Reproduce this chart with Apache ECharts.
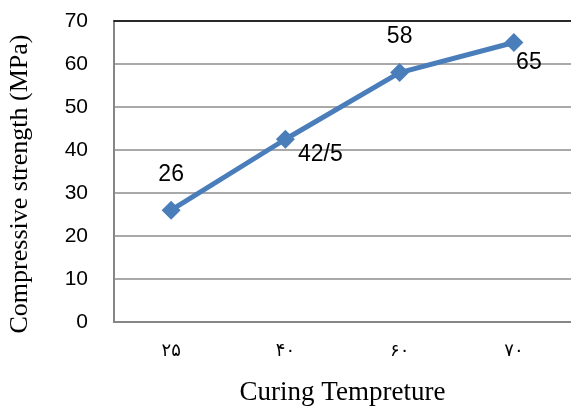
<!DOCTYPE html>
<html><head><meta charset="utf-8">
<script src="https://cdn.jsdelivr.net/npm/echarts@6/dist/echarts.min.js"></script>
<style>html,body{margin:0;padding:0;background:#fff}#c{width:571px;height:407px}</style>
</head><body><div id="c"></div>
<script>
const categories = ['۲۵', '۴۰', '۶۰', '۷۰'];
const values = [26, 42.5, 58, 65];
const labelTexts = ['26', '42/5', '58', '65'];
const yTicks = [0, 10, 20, 30, 40, 50, 60, 70];

const labelOffsets = [[0, 0], [35, 51], [0, 0], [15, 56]];
const chart = echarts.init(document.getElementById('c'));
chart.setOption({
  animation: false,
  grid: { left: 114, right: 0, top: 21, bottom: 85, outerBoundsMode: 'none', containLabel: false },
  xAxis: [{
    type: 'category', data: categories, boundaryGap: true,
    axisLine: { lineStyle: { color: '#868686', width: 2 } },
    axisTick: { show: false },
    axisLabel: { color: '#000', fontFamily: 'DejaVu Sans', fontSize: 18, margin: 20 },
    name: 'Curing Tempreture', nameLocation: 'middle', nameGap: 57,
    nameTextStyle: { color: '#000', fontFamily: 'Liberation Serif', fontSize: 27 }
  }, {
    type: 'category', data: categories, position: 'top',
    axisLine: { show: true, lineStyle: { color: '#000', width: 1.5 } },
    axisTick: { show: false }, axisLabel: { show: false }
  }],
  yAxis: {
    type: 'value', min: yTicks[0], max: yTicks[yTicks.length - 1], interval: 10,
    axisLine: { show: true, lineStyle: { color: '#868686', width: 2 } },
    axisTick: { show: false },
    splitLine: { lineStyle: { color: '#8c8c8c', width: 1.5 } },
    axisLabel: { color: '#000', fontFamily: 'Liberation Sans', fontSize: 21, margin: 26 },
    name: 'Compressive strength (MPa)', nameLocation: 'middle', nameGap: 81,
    nameTextStyle: { color: '#000', fontFamily: 'Liberation Serif', fontSize: 26, padding: [0, 25, 0, 0] }
  },
  series: [{
    type: 'line',
    data: values.map((v, i) => ({
      value: v,
      label: {
        show: true, formatter: labelTexts[i],
        position: 'top', distance: 15,
        offset: labelOffsets[i]
      }
    })),
    symbol: 'diamond', symbolSize: 19,
    lineStyle: { color: '#4a7ebb', width: 5 },
    itemStyle: { color: '#4a7ebb' },
    label: { color: '#000', fontFamily: 'Liberation Sans', fontSize: 23 }
  }]
});
</script></body></html>
